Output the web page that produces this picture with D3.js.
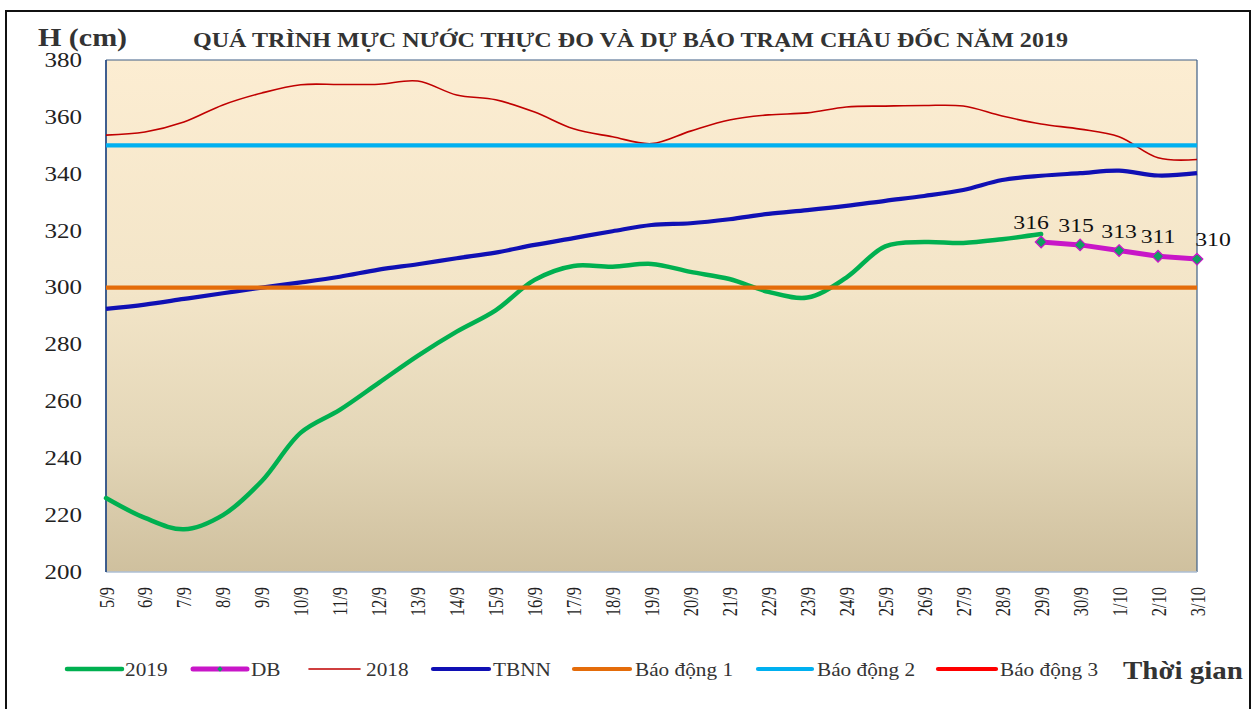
<!DOCTYPE html>
<html>
<head>
<meta charset="utf-8">
<script src="https://cdn.jsdelivr.net/npm/d3@7"></script>
<style>
  html, body { margin: 0; padding: 0; background: #fff; }
  svg { display: block; }
  text { font-family: "Liberation Serif", "Times New Roman", serif; }
</style>
</head>
<body>
<svg id="chart" width="1259" height="709"></svg>
<script>
// ---------------- DATA ----------------
const categories = ["5/9","6/9","7/9","8/9","9/9","10/9","11/9","12/9","13/9","14/9","15/9","16/9","17/9","18/9","19/9","20/9","21/9","22/9","23/9","24/9","25/9","26/9","27/9","28/9","29/9","30/9","1/10","2/10","3/10"];
const s2019 = [226,219,215,220,232,249,257,266.5,276,284.5,292,302.7,307.6,307.3,308.3,305.5,303,298.5,296.5,303.5,314.5,316,315.7,317,318.8];
const sDB = [316,315,313,311,310];
const sDBcats = ["29/9","30/9","1/10","2/10","3/10"];
const s2018 = [353.6,354.7,358.2,364.2,368.4,371.3,371.4,371.5,372.6,367.7,366,361.7,355.8,353,350.6,355,358.9,360.7,361.4,363.5,363.8,364,363.8,360.3,357.5,355.7,353,345.6,345];
const sTBNN = [292.5,294,296,298,300,301.8,303.8,306.3,308.2,310.3,312.3,315,317.4,319.8,322,322.6,324,325.9,327.2,328.7,330.5,332.2,334.3,337.8,339.3,340.2,341.1,339.4,340.2];
const baoDong1 = 300, baoDong2 = 350, baoDong3 = 400;
const yTicks = [200,220,240,260,280,300,320,340,360,380];
const titleText = "QUÁ TRÌNH MỰC NƯỚC THỰC ĐO VÀ DỰ BÁO TRẠM CHÂU ĐỐC NĂM  2019";
const yAxisTitle = "H (cm)";
const xAxisTitle = "Thời gian";
const legendNames = ["2019","DB","2018","TBNN","Báo động 1","Báo động 2","Báo động 3"];

// ---------------- LAYOUT ----------------
const svg = d3.select("#chart");
const L = 106, R = 1197, T = 60, B = 572;
const SX = 1.22; // horizontal stretch of text as in reference

const x = d3.scalePoint().domain(categories).range([L, R]);
const y = d3.scaleLinear().domain([200, 380]).range([B, T]);

function stext(parent, px, py, sx) {
  return parent.append("text").attr("transform", `translate(${px},${py}) scale(${sx},1)`);
}

// outer frame
svg.append("rect").attr("x", 6).attr("y", 11).attr("width", 1244).attr("height", 712)
  .attr("fill", "none").attr("stroke", "#111").attr("stroke-width", 2);

// gradient
const defs = svg.append("defs");
const grad = defs.append("linearGradient").attr("id", "bg").attr("x1", 0).attr("y1", 0).attr("x2", 0).attr("y2", 1);
grad.append("stop").attr("offset", "0%").attr("stop-color", "#FCEDD2");
grad.append("stop").attr("offset", "45%").attr("stop-color", "#F3E5C8");
grad.append("stop").attr("offset", "75%").attr("stop-color", "#E3D6B7");
grad.append("stop").attr("offset", "100%").attr("stop-color", "#CFC09E");
defs.append("clipPath").attr("id", "clip").append("rect")
  .attr("x", L - 4).attr("y", T).attr("width", R - L + 8).attr("height", B - T);

svg.append("rect").attr("x", L).attr("y", T).attr("width", R - L).attr("height", B - T)
  .attr("fill", "url(#bg)");

// plot borders
svg.append("line").attr("x1", L).attr("x2", R).attr("y1", T).attr("y2", T).attr("stroke", "#3F5F85").attr("stroke-width", 1.2);
svg.append("line").attr("x1", R).attr("x2", R).attr("y1", T).attr("y2", B).attr("stroke", "#3F5F85").attr("stroke-width", 1.2);
svg.append("line").attr("x1", L).attr("x2", R).attr("y1", B).attr("y2", B).attr("stroke", "#AEBFD4").attr("stroke-width", 1.5);
svg.append("line").attr("x1", L).attr("x2", L).attr("y1", T).attr("y2", B).attr("stroke", "#2B4E86").attr("stroke-width", 1.8);

// y axis labels
const yAxis = d3.axisLeft(y).tickValues(yTicks).tickSize(0).tickPadding(24);
const gy = svg.append("g").attr("transform", `translate(${L},0)`).call(yAxis);
gy.select(".domain").remove();
gy.selectAll("text").attr("font-size", 20).attr("fill", "#222")
  .attr("x", -24 / 1.25).attr("transform", "scale(1.25,1)");

// x axis labels
const xAxis = d3.axisBottom(x).tickSize(0).tickPadding(0);
const gx = svg.append("g").attr("transform", `translate(0,${B})`).call(xAxis);
gx.select(".domain").remove();
gx.selectAll("text")
  .attr("font-size", 16.5).attr("fill", "#222")
  .attr("text-anchor", "end").attr("dy", null).attr("y", 0)
  .attr("transform", `translate(7,15) scale(${SX},1) rotate(-90)`);

// series
const plot = svg.append("g").attr("clip-path", "url(#clip)");
const smooth = d3.line().x((d) => x(d.c)).y((d) => y(d.v)).curve(d3.curveCatmullRom.alpha(0.5));
const straight = d3.line().x((d) => x(d.c)).y((d) => y(d.v));

const d2019 = s2019.map((v, i) => ({ c: categories[i], v }));
const d2018 = s2018.map((v, i) => ({ c: categories[i], v }));
const dTBNN = sTBNN.map((v, i) => ({ c: categories[i], v }));
const dDB = sDB.map((v, i) => ({ c: sDBcats[i], v }));

plot.append("path").datum(d2019).attr("d", smooth).attr("fill", "none").attr("stroke", "#00B050").attr("stroke-width", 4.5).attr("stroke-linecap", "round");
plot.append("path").datum(dDB).attr("d", straight).attr("fill", "none").attr("stroke", "#C816C8").attr("stroke-width", 5).attr("stroke-linejoin", "round");
plot.append("path").datum(d2018).attr("d", smooth).attr("fill", "none").attr("stroke", "#C00000").attr("stroke-width", 1.6);
plot.append("path").datum(dTBNN).attr("d", smooth).attr("fill", "none").attr("stroke", "#1010B4").attr("stroke-width", 4.2);

const alarmLine = (v, col) => plot.append("path")
  .datum([{ c: categories[0], v }, { c: categories[categories.length - 1], v }])
  .attr("d", straight).attr("fill", "none").attr("stroke", col).attr("stroke-width", 4.2);
alarmLine(baoDong1, "#E46C0A");
alarmLine(baoDong2, "#00B0F0");
alarmLine(baoDong3, "#FF0000");

// DB markers
svg.append("g").selectAll("path").data(dDB).join("path")
  .attr("d", d3.symbol().type(d3.symbolDiamond2).size(85))
  .attr("transform", (d) => `translate(${x(d.c)},${y(d.v)})`)
  .attr("fill", "#0FA060").attr("stroke", "#C816C8").attr("stroke-width", 1.3);

// DB labels
const lblG = svg.append("g");
dDB.forEach((d, i) => {
  const dx = i === 0 ? -10 : i === dDB.length - 1 ? 16 : i === 1 ? -4 : 0;
  stext(lblG, x(d.c) + dx, y(d.v) - 13, 1.25)
    .attr("text-anchor", "middle").attr("font-size", 19).attr("fill", "#111").text(d.v);
});

// titles
stext(svg, 38, 46, 1.2).attr("font-size", 25).attr("font-weight", "bold").attr("fill", "#333").text(yAxisTitle);
svg.append("text").attr("x", 193).attr("y", 47).attr("font-size", 20).attr("font-weight", "bold").attr("fill", "#333")
  .attr("textLength", 875).attr("lengthAdjust", "spacingAndGlyphs").text(titleText);

// legend
const legendItems = [
  { name: legendNames[0], col: "#00B050", w: 4.5, x0: 67, x1: 122, tx: 125 },
  { name: legendNames[1], col: "#C816C8", w: 5, x0: 193, x1: 247, tx: 251, marker: true },
  { name: legendNames[2], col: "#C00000", w: 1.6, x0: 309, x1: 360, tx: 366 },
  { name: legendNames[3], col: "#1010B4", w: 4.2, x0: 433, x1: 489, tx: 493 },
  { name: legendNames[4], col: "#E46C0A", w: 4.2, x0: 574, x1: 630, tx: 635 },
  { name: legendNames[5], col: "#00B0F0", w: 4.2, x0: 758, x1: 812, tx: 817 },
  { name: legendNames[6], col: "#FF0000", w: 4.2, x0: 938, x1: 996, tx: 1000 }
];
const lg = svg.append("g");
const ly = 669;
legendItems.forEach((it) => {
  lg.append("line").attr("x1", it.x0).attr("x2", it.x1).attr("y1", ly).attr("y2", ly)
    .attr("stroke", it.col).attr("stroke-width", it.w).attr("stroke-linecap", "round");
  if (it.marker) {
    lg.append("path").attr("d", d3.symbol().type(d3.symbolDiamond2).size(20))
      .attr("transform", `translate(${(it.x0 + it.x1) / 2},${ly})`).attr("fill", "#0FA060");
  }
  stext(lg, it.tx, ly + 7, 1.15).attr("font-size", 18.5).attr("fill", "#333").text(it.name);
});
stext(svg, 1123, 679, 1.16).attr("font-size", 25).attr("font-weight", "bold").attr("fill", "#333").text(xAxisTitle);
</script>
</body>
</html>
